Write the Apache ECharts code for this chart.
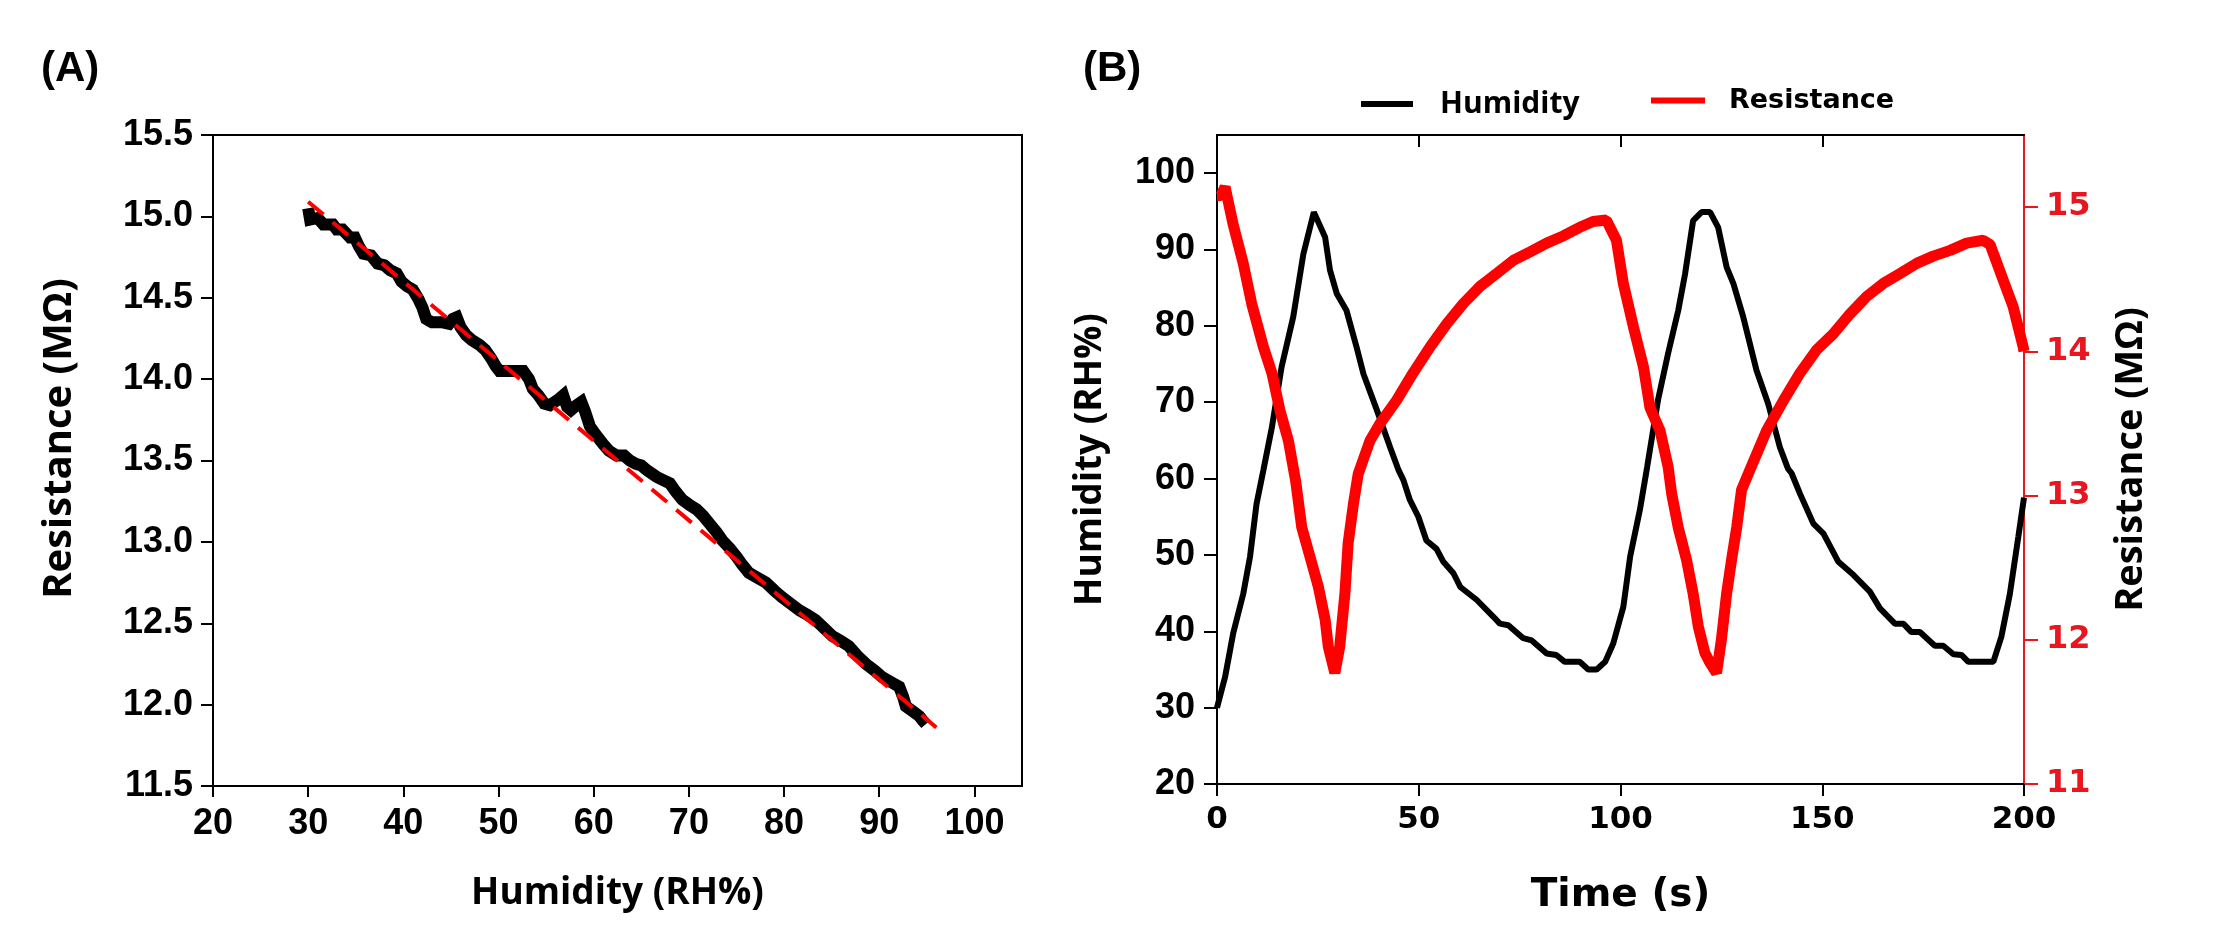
<!DOCTYPE html>
<html><head><meta charset="utf-8">
<script src="https://cdn.jsdelivr.net/npm/echarts@6/dist/echarts.min.js"></script>
<style>html,body{margin:0;padding:0;background:#fff}#c{width:2227px;height:938px}</style>
</head><body><div id="c"></div>
<script>
// ---------- Panel (A): resistance vs humidity ----------
const humA = [30.0,30.2,31.0,31.6,32.6,33.0,33.6,34.4,34.9,35.3,35.8,36.6,37.3,38.0,38.6,39.3,39.8,40.4,41.0,41.6,42.0,42.4,43.0,44.0,44.8,45.2,45.6,46.0,46.6,47.2,48.0,48.6,49.2,49.7,50.1,51.0,52.0,52.6,53.2,53.6,54.2,54.8,55.4,55.9,56.4,56.8,57.2,57.6,58.2,58.7,59.1,59.6,60.2,61.0,61.6,62.4,63.2,63.8,64.4,65.0,65.6,66.6,67.3,68.0,68.6,69.3,70.0,70.8,71.5,72.2,72.9,73.5,74.3,75.0,75.6,76.3,77.2,78.1,79.0,79.8,80.7,81.6,82.5,83.3,84.2,85.1,86.0,86.8,87.7,88.6,89.5,90.3,91.2,92.1,92.5,92.8,93.5,94.2,94.6,94.9];
const resA = [15.05,14.98,14.99,14.95,14.95,14.92,14.92,14.87,14.87,14.82,14.77,14.76,14.71,14.70,14.67,14.65,14.60,14.57,14.55,14.49,14.44,14.37,14.35,14.35,14.34,14.37,14.38,14.32,14.27,14.24,14.21,14.18,14.13,14.08,14.05,14.05,14.05,14.05,14.00,13.94,13.90,13.85,13.84,13.86,13.88,13.90,13.83,13.81,13.84,13.86,13.80,13.71,13.66,13.60,13.56,13.53,13.53,13.50,13.48,13.47,13.44,13.40,13.38,13.36,13.31,13.26,13.23,13.20,13.16,13.11,13.06,13.01,12.96,12.91,12.86,12.81,12.78,12.75,12.70,12.66,12.62,12.58,12.55,12.52,12.47,12.42,12.39,12.36,12.30,12.25,12.21,12.17,12.14,12.11,12.05,11.99,11.96,11.93,11.90,11.88];
const fitX = [30, 96];
const fitY = [15.09, 11.86];
const ticksAx = [20,30,40,50,60,70,80,90,100];

// ---------- Panel (B): time response ----------
const timeH = [0,2,4,6.5,8.2,9.8,11.5,13.6,16,18.9,21.4,24,26.8,28,29.7,32.1,34.6,36.3,39.6,42.9,45,46.2,47.8,49.9,51.9,54.4,56.1,58.6,60.3,64.4,68.5,70.1,72.2,75.9,78,81.7,84.1,86.2,89.9,92,94.1,96.2,98.2,100.7,102.4,104.8,106.6,109.3,111.8,114.3,116,118,120.1,122.2,124.2,126.3,128,130.4,133.7,136.6,139.5,141.5,142.4,144.5,147.8,150.3,154,157.7,161.8,164.3,168,170.1,172.1,174.2,177.9,180,182.5,184.5,186.2,192.4,194.4,196.5,198.6,200];
const humB = [30,34,39.7,44.9,49.8,56.7,61.1,66.7,74.6,81.2,89.4,94.9,91.6,87.3,84.2,82,77.2,73.7,69,64.1,61.1,59.8,57.2,55,51.9,50.8,49.1,47.6,45.8,44.1,41.9,41,40.8,39.1,38.8,37.1,36.9,36,36,35,35,36,38.4,43.2,49.8,55.9,61.5,70.3,76.4,82,86.8,93.8,94.9,94.9,92.9,87.7,85.5,81.2,74.2,69.8,64.1,61.3,60.7,58,54.1,52.8,49.1,47.4,45.2,43,41,41,39.9,39.9,38.1,38.1,37,36.9,36,36,39.3,44.9,52.4,57.5];
const timeR = [0,1,2,4,6.5,8.6,11.5,13.6,15.6,17.7,19.5,21,23,25.1,26.8,27.6,29.2,30.4,31.7,32.5,33.8,35,37.9,40.4,44.5,48.6,52.8,56.9,61,65.2,69.3,73.4,77.6,81.7,85.8,89.9,93.2,96.5,99,100.7,103.2,105.7,107.3,109.8,111.8,112.7,114.3,116.4,118,119.3,120.9,122.2,123.8,125,126.3,127.5,128.8,130,132.1,136.2,140.4,144.5,148.6,152.7,156.9,161,165.1,169.3,173.4,177.5,181.7,185.8,189.9,191.6,194.9,197.3,199.8,200];
const resB = [15.08,15.08,15.14,14.88,14.61,14.33,14.03,13.85,13.59,13.38,13.1,12.78,12.58,12.37,12.14,11.95,11.77,11.95,12.32,12.67,12.94,13.15,13.38,13.5,13.66,13.85,14.03,14.19,14.33,14.45,14.54,14.63,14.69,14.75,14.8,14.86,14.9,14.91,14.77,14.47,14.17,13.89,13.61,13.45,13.2,13.01,12.78,12.55,12.32,12.09,11.91,11.84,11.77,12.0,12.32,12.55,12.78,13.04,13.18,13.45,13.66,13.85,14.01,14.12,14.26,14.38,14.47,14.54,14.61,14.66,14.7,14.75,14.77,14.74,14.49,14.31,14.03,14.0];
const ticksBx = [0,50,100,150,200];
const ticksBl = [20,30,40,50,60,70,80,90,100];
const ticksBr = [11,12,13,14,15];

const zip = (a, b) => a.map((v, i) => [v, b[i]]);
const RED = '#ff0000';
const RED_T = '#e8161e';
const ARIAL = 'Liberation Sans, Arial, sans-serif';
const OPEN = 'Open Sans, sans-serif';
const DEJA = 'DejaVu Sans, Verdana, sans-serif';

const chart = echarts.init(document.getElementById('c'), null, {renderer: 'canvas'});
chart.setOption({
  animation: false,
  backgroundColor: '#fff',
  title: [
    {text: '(A)', left: 36, top: 43, textStyle: {fontFamily: ARIAL, fontWeight: 'bold', fontSize: 42, color: '#000'}},
    {text: '(B)', left: 1078, top: 43, textStyle: {fontFamily: ARIAL, fontWeight: 'bold', fontSize: 42, color: '#000'}}
  ],
  legend: [
    {data: ['Humidity'], left: 1356, top: 84, icon: 'rect', itemWidth: 52, itemHeight: 6,
     textStyle: {fontFamily: OPEN, fontWeight: 'bold', fontSize: 30, color: '#000', padding: [0, 0, 0, 22]}},
    {data: ['Resistance'], left: 1646, top: 82, icon: 'rect', itemWidth: 54, itemHeight: 6,
     textStyle: {fontFamily: DEJA, fontWeight: 'bold', fontSize: 27, color: '#000', padding: [0, 0, 0, 19]}}
  ],
  grid: [
    {left: 213, top: 135, width: 809, height: 651, show: true, borderColor: '#000', borderWidth: 2},
    {left: 1217, top: 135, width: 807, height: 649, show: true, borderColor: '#000', borderWidth: 2}
  ],
  xAxis: [
    {gridIndex: 0, type: 'value', min: 20, max: 105, interval: 10, position: 'bottom',
     axisLine: {show: true, onZero: false, lineStyle: {color: '#000', width: 2}},
     axisTick: {show: true, inside: false, length: 11, customValues: ticksAx, lineStyle: {color: '#000', width: 2}},
     axisLabel: {customValues: ticksAx, margin: 20, fontFamily: ARIAL, fontWeight: 'bold', fontSize: 36, color: '#000'},
     splitLine: {show: false},
     name: 'Humidity (RH%)', nameLocation: 'middle', nameGap: 89,
     nameTextStyle: {fontFamily: OPEN, fontWeight: 'bold', fontSize: 37, color: '#000'}},
    {gridIndex: 1, type: 'value', min: 0, max: 200, interval: 50, position: 'bottom',
     axisLine: {show: true, onZero: false, lineStyle: {color: '#000', width: 2}},
     axisTick: {show: true, inside: false, length: 12, customValues: ticksBx, lineStyle: {color: '#000', width: 2}},
     axisLabel: {customValues: ticksBx, margin: 20, fontFamily: DEJA, fontWeight: 'bold', fontSize: 31, color: '#000'},
     splitLine: {show: false},
     name: 'Time (s)', nameLocation: 'middle', nameGap: 92,
     nameTextStyle: {fontFamily: DEJA, fontWeight: 'bold', fontSize: 39, color: '#000'}},
    {gridIndex: 1, type: 'value', min: 0, max: 200, interval: 50, position: 'top',
     axisLine: {show: true, onZero: false, lineStyle: {color: '#000', width: 2}},
     axisTick: {show: true, inside: true, length: 12, customValues: [50, 100, 150], lineStyle: {color: '#000', width: 2}},
     axisLabel: {show: false}, splitLine: {show: false}}
  ],
  yAxis: [
    {gridIndex: 0, type: 'value', min: 11.5, max: 15.5, interval: 0.5, position: 'left',
     axisLine: {show: true, onZero: false, lineStyle: {color: '#000', width: 2}},
     axisTick: {show: true, inside: false, length: 12, lineStyle: {color: '#000', width: 2}},
     axisLabel: {margin: 20, formatter: v => v.toFixed(1), fontFamily: ARIAL, fontWeight: 'bold', fontSize: 36, color: '#000'},
     splitLine: {show: false},
     name: 'Resistance (M\u03A9)', nameLocation: 'middle', nameGap: 133, nameRotate: 90,
     nameTextStyle: {fontFamily: OPEN, fontWeight: 'bold', fontSize: 40, color: '#000', padding: [0, 0, 0, 44]}},
    {gridIndex: 1, type: 'value', min: 20, max: 105, interval: 10, position: 'left',
     axisLine: {show: true, onZero: false, lineStyle: {color: '#000', width: 2}},
     axisTick: {show: true, inside: false, length: 13, customValues: ticksBl, lineStyle: {color: '#000', width: 2}},
     axisLabel: {customValues: ticksBl, margin: 22, fontFamily: ARIAL, fontWeight: 'bold', fontSize: 36, color: '#000'},
     splitLine: {show: false},
     name: 'Humidity (RH%)', nameLocation: 'middle', nameGap: 108, nameRotate: 90,
     nameTextStyle: {fontFamily: OPEN, fontWeight: 'bold', fontSize: 37, color: '#000'}},
    {gridIndex: 1, type: 'value', min: 11, max: 15.5, interval: 1, position: 'right',
     axisLine: {show: true, onZero: false, lineStyle: {color: RED_T, width: 2}},
     axisTick: {show: true, inside: false, length: 14, customValues: ticksBr, lineStyle: {color: RED_T, width: 2}},
     axisLabel: {customValues: ticksBr, margin: 22, fontFamily: DEJA, fontWeight: 'bold', fontSize: 32, color: RED_T},
     splitLine: {show: false},
     name: 'Resistance (M\u03A9)', nameLocation: 'middle', nameGap: 88, nameRotate: 90,
     nameTextStyle: {fontFamily: OPEN, fontWeight: 'bold', fontSize: 38, color: '#000'}}
  ],
  series: [
    {name: 'dataA', type: 'line', xAxisIndex: 0, yAxisIndex: 0, data: zip(humA, resA),
     showSymbol: false, lineStyle: {color: '#000', width: 12, join: 'miter'}, z: 2},
    {name: 'fitA', type: 'line', xAxisIndex: 0, yAxisIndex: 0, data: zip(fitX, fitY),
     showSymbol: false, lineStyle: {color: RED, width: 4, type: [20, 12]}, z: 3},
    {name: 'Humidity', type: 'line', xAxisIndex: 1, yAxisIndex: 1, data: zip(timeH, humB),
     showSymbol: false, itemStyle: {color: '#000'}, lineStyle: {color: '#000', width: 6}, z: 2},
    {name: 'Resistance', type: 'line', xAxisIndex: 1, yAxisIndex: 2, data: zip(timeR, resB),
     showSymbol: false, itemStyle: {color: RED}, lineStyle: {color: RED, width: 11}, z: 3}
  ]
});
</script></body></html>
